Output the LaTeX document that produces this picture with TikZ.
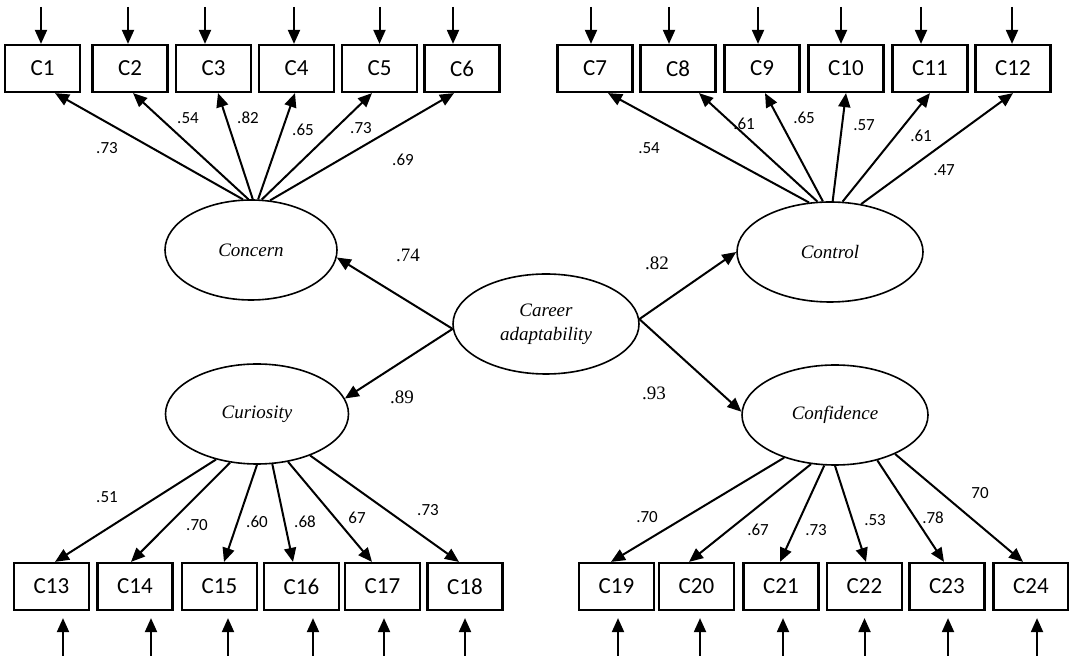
\documentclass[tikz,border=0pt]{standalone}
\usepackage{fontspec}
\setmainfont{Liberation Serif}
\newfontfamily\boxfont{Carlito}
\usetikzlibrary{arrows.meta,calc,shapes.geometric}

\tikzset{
  indicator/.style={draw,line width=1.1pt,minimum width=37.5pt,minimum height=23.5pt,
    inner sep=0pt,font=\boxfont\fontsize{11.5}{13}\selectfont},
  factor/.style={draw,ellipse,line width=0.8pt,minimum width=93pt,minimum height=50pt,
    inner sep=0pt,align=center,font=\itshape\fontsize{9.5}{12}\selectfont},
  loading/.style={inner sep=0pt,font=\boxfont\fontsize{8.5}{10}\selectfont},
  weight/.style={inner sep=0pt,font=\fontsize{9.5}{11}\selectfont},
  link/.style={line width=1pt,-{Triangle[length=7pt,width=6pt]}}
}

\begin{document}
\begin{tikzpicture}[x=0.5pt,y=-0.5pt]
\useasboundingbox (0,0) rectangle (1069,656);

% latent factors
\node[factor] (career) at (546,324) {Career\\adaptability};
\node[factor,minimum width=86pt] (concern) at (251,250) {Concern};
\node[factor] (control) at (830,252) {Control};
\node[factor,minimum width=91.5pt] (curiosity) at (257,414) {Curiosity};
\node[factor] (confidence) at (835,415) {Confidence};

% second order paths
\draw[link] (career.183) -- (concern.-5);
\draw[link] (career.183) -- (curiosity.10);
\draw[link] (career.3) -- (control.west);
\draw[link] (career.3) -- (confidence.178);
\node[weight] (w1) at (408,255) {.74};
\node[weight] (w2) at (657,263) {.82};
\node[weight] (w3) at (402,397) {.89};
\node[weight] (w4) at (654,393) {.93};

% concern items
\foreach \i/\x/\a/\t/\e in {1/42.5/99/12.5/-1.5, 2/130/93/3/-2, 3/213.5/88/4.5/-8.5,
    4/296.5/82/-1.5/-2.5, 5/379.5/78/-7.5/0, 6/462/69/-8/-9}{
  \node[indicator] (c\i) at (\x,68.5) {C\i};
  \draw[link] (concern.\a) -- ($(c\i.south)+(\t,0)$);
  \draw[link] ($(c\i.north)+(\e,-37)$) -- ($(c\i.north)+(\e,0)$);
}

% control items
\foreach \i/\x/\a/\t/\e in {7/595/113/13/-4, 8/678/104/21/-9, 9/762/98/3/-4,
    10/846/87/0/-5, 11/930/76/0/-9, 12/1013/57/0/-1}{
  \node[indicator] (c\i) at (\x,68.5) {C\i};
  \draw[link] (control.\a) -- ($(c\i.south)+(\t,0)$);
  \draw[link] ($(c\i.north)+(\e,-37)$) -- ($(c\i.north)+(\e,0)$);
}

% curiosity items
\foreach \i/\x/\a/\t/\e in {13/51.5/-132/3.5/11.5, 14/135/-119/-4/16, 15/219.5/-90/4.5/8.5,
    16/301.5/-73/-8.5/11.5, 17/382.5/-57/-10.5/1.5, 18/465/-38/-6/0}{
  \node[indicator] (c\i) at (\x,586.5) {C\i};
  \draw[link] (curiosity.\a) -- ($(c\i.north)+(\t,0)$);
  \draw[link] ($(c\i.south)+(\e,46)$) -- ($(c\i.south)+(\e,7)$);
}

% confidence items
\foreach \i/\x/\a/\t/\e in {19/616.5/-140/-5.5/1.5, 20/696.5/-116/-7.5/3.5, 21/781/-102/-1/2,
    22/864.5/-90/1.5/0, 23/947/-47/-3/1, 24/1031/-33/-8/6}{
  \node[indicator] (c\i) at (\x,586.5) {C\i};
  \draw[link] (confidence.\a) -- ($(c\i.north)+(\t,0)$);
  \draw[link] ($(c\i.south)+(\e,46)$) -- ($(c\i.south)+(\e,7)$);
}

% loadings
\foreach \v/\x/\y [count=\n] in {.73/107/148, .54/188/118, .82/248/118, .65/303/130,
    .73/361/128, .69/403/160, .54/649/148, .61/744/124, .65/804/118, .57/864/125,
    .61/921/136, .47/944/170, .51/107/497, .70/197/525, .60/257/522, .68/305/522,
    67/357/518, .73/428/510, .70/647/517, .67/758/530, .73/816/530, .53/875/520,
    .78/933/518, 70/980/493}
  \node[loading] (l\n) at (\x,\y) {\v};
\end{tikzpicture}
\end{document}
